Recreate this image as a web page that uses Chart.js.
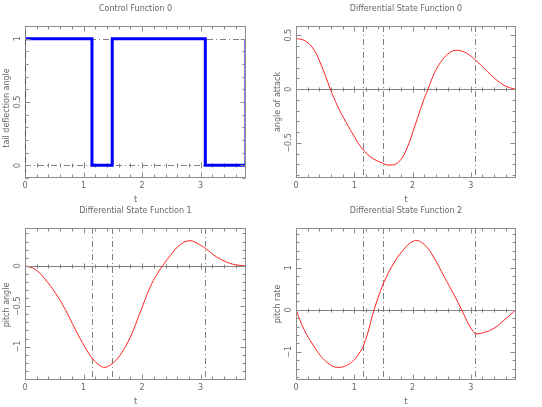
<!DOCTYPE html>
<html lang="en">
<head>
<meta charset="UTF-8">
<title>Control and Differential State Functions</title>
<script src="https://cdn.jsdelivr.net/npm/chart.js"></script>
<style>
    body { margin: 0; background: #ffffff; }
    canvas { position: absolute; }
</style>
</head>
<body>
<canvas id="c0" width="271" height="203" style="left:0;top:0"></canvas>
<canvas id="c1" width="271" height="203" style="left:271px;top:0"></canvas>
<canvas id="c2" width="271" height="204" style="left:0;top:203px"></canvas>
<canvas id="c3" width="271" height="204" style="left:271px;top:203px"></canvas>
<script>
// switching times of the control (dash-dot markers)
const switchTimes = [1.144, 1.49, 3.08];
const tEnd = 3.775;

// control function 0 (tail deflection angle)
const controlT = [0, 1.144, 1.144, 1.49, 1.49, 3.08, 3.08, 3.775, 3.775];
const controlU = [1, 1, 0, 0, 1, 1, 0, 0, 1];

// differential state 0 (angle of attack)
const alphaT = [0, 0.14, 0.29, 0.43, 0.59, 0.71, 0.86, 1.0, 1.098, 1.27, 1.48, 1.612, 1.755, 1.898, 2.04, 2.18, 2.266, 2.38, 2.52, 2.64, 2.74, 2.86, 2.98, 3.08, 3.28, 3.51, 3.68, 3.775];
const alphaV = [0.469, 0.453, 0.38, 0.227, 0, -0.155, -0.31, -0.44, -0.526, -0.626, -0.688, -0.706, -0.681, -0.557, -0.341, -0.118, 0, 0.154, 0.278, 0.34, 0.36, 0.35, 0.315, 0.27, 0.165, 0.056, 0.01, 0];

// differential state 1 (pitch angle)
const thetaT = [0, 0.17, 0.342, 0.513, 0.684, 0.855, 1.026, 1.157, 1.28, 1.37, 1.48, 1.62, 1.80, 1.97, 2.14, 2.25, 2.35, 2.48, 2.65, 2.82, 2.98, 3.08, 3.27, 3.50, 3.67, 3.775];
const thetaV = [0, -0.042, -0.165, -0.33, -0.536, -0.782, -1.008, -1.152, -1.235, -1.256, -1.215, -1.11, -0.88, -0.57, -0.26, -0.11, 0, 0.125, 0.26, 0.31, 0.26, 0.215, 0.11, 0.03, 0.004, 0];

// differential state 2 (pitch rate)
const qT = [0, 0.14, 0.29, 0.43, 0.57, 0.70, 0.86, 1.0, 1.144, 1.23, 1.34, 1.49, 1.63, 1.8, 2.03, 2.2, 2.37, 2.54, 2.71, 2.84, 3.0, 3.08, 3.23, 3.4, 3.57, 3.775];
const qV = [0, -0.48, -0.83, -1.11, -1.29, -1.37, -1.33, -1.19, -0.91, -0.56, 0, 0.6, 0.99, 1.35, 1.64, 1.55, 1.23, 0.79, 0.36, 0, -0.44, -0.58, -0.54, -0.44, -0.25, 0];

// tick labels
const xTicks = [0, 1, 2, 3];
const yTicksControl = [0, 0.5, 1];
const yTicksAlpha = [-0.5, 0, 0.5];
const yTicksTheta = [-1, -0.5, 0];
const yTicksQ = [-1, 0, 1];

const fmt = v => (v < 0 ? '\u2212' : '') + Math.abs(v);

// split a curve at the switching times so the kinks stay sharp
function segments(ts, vs) {
    const cuts = [0, ...switchTimes, tEnd];
    const out = [];
    for (let i = 0; i < cuts.length - 1; i++) {
        const pts = [];
        ts.forEach((t, j) => {
            if (t >= cuts[i] - 1e-9 && t <= cuts[i + 1] + 1e-9) pts.push({ x: t, y: vs[j] });
        });
        out.push(pts);
    }
    return out;
}

const decor = {
    id: 'decor',
    beforeDatasetsDraw(chart, args, o) {
        const { ctx, chartArea: a, scales: { x, y } } = chart;
        ctx.save();
        ctx.lineWidth = 1;
        ctx.strokeStyle = '#808080';
        ctx.setLineDash([6, 3, 1, 3]);
        (o.vLines || []).forEach(v => {
            const px = Math.round(x.getPixelForValue(v)) + 0.5;
            ctx.beginPath(); ctx.moveTo(px, a.top); ctx.lineTo(px, a.bottom); ctx.stroke();
        });
        (o.hDash || []).forEach(v => {
            const py = Math.round(y.getPixelForValue(v)) + 0.5;
            ctx.beginPath(); ctx.moveTo(a.left, py); ctx.lineTo(a.right, py); ctx.stroke();
        });
        ctx.setLineDash([]);
        // zero axis with its own small ticks
        const py0 = Math.round(y.getPixelForValue(0)) + 0.5;
        if (!o.zeroDashed) {
            ctx.beginPath(); ctx.moveTo(a.left, py0); ctx.lineTo(a.right, py0); ctx.stroke();
        }
        for (let t = 0; t <= tEnd + 1e-9; t += 0.2) {
            const px = Math.round(x.getPixelForValue(t)) + 0.5;
            const major = Math.abs(t - Math.round(t)) < 1e-6;
            const h = major ? 3 : 2;
            ctx.beginPath(); ctx.moveTo(px, py0 - h); ctx.lineTo(px, py0 + h); ctx.stroke();
        }
        ctx.restore();
    },
    afterDatasetsDraw(chart, args, o) {
        const { ctx, chartArea: a, scales: { x, y } } = chart;
        ctx.save();
        ctx.strokeStyle = '#8c8c8c';
        ctx.lineWidth = 1;
        const L = a.left + 0.5, R = Math.round(a.right) - 0.5, T = a.top + 0.5, B = Math.round(a.bottom) - 0.5;
        ctx.strokeRect(L, T, R - L, B - T);
        if (o.darkLeft) {
            ctx.strokeStyle = '#505050';
            ctx.setLineDash([6, 3, 1, 3]);
            ctx.beginPath(); ctx.moveTo(L, T); ctx.lineTo(L, B); ctx.stroke();
            ctx.setLineDash([]);
            ctx.strokeStyle = '#8c8c8c';
        }
        // x ticks, inward on bottom and top
        for (let t = 0; t <= tEnd + 1e-9; t += 0.2) {
            const px = Math.round(x.getPixelForValue(t)) + 0.5;
            const major = Math.abs(t - Math.round(t)) < 1e-6;
            const h = major ? 5 : 3;
            ctx.beginPath();
            ctx.moveTo(px, B); ctx.lineTo(px, B - h);
            ctx.moveTo(px, T); ctx.lineTo(px, T + h);
            ctx.stroke();
        }
        // y ticks, inward on left and right
        const start = Math.ceil(y.min / o.yMinor - 1e-9) * o.yMinor;
        for (let v = start; v <= y.max + 1e-9; v += o.yMinor) {
            const py = Math.round(y.getPixelForValue(v)) + 0.5;
            const major = o.yTicks.some(m => Math.abs(m - v) < 1e-6);
            const h = major ? 5 : 3;
            ctx.beginPath();
            ctx.moveTo(L, py); ctx.lineTo(L + h, py);
            ctx.moveTo(R, py); ctx.lineTo(R - h, py);
            ctx.stroke();
        }
        // texts
        ctx.fillStyle = '#666666';
        ctx.font = '8px "DejaVu Sans"';
        ctx.textAlign = 'center';
        ctx.textBaseline = 'middle';
        xTicks.forEach(t => ctx.fillText(String(t), x.getPixelForValue(t), a.bottom + 8));
        ctx.fillText('t', (a.left + a.right) / 2, a.bottom + 22);
        ctx.fillText(o.title, (a.left + a.right) / 2, a.top - 17);
        o.yTicks.forEach(v => {
            ctx.save();
            ctx.translate(a.left - 7, y.getPixelForValue(v));
            ctx.rotate(-Math.PI / 2);
            ctx.fillText(fmt(v), 0, 0);
            ctx.restore();
        });
        ctx.save();
        ctx.translate(7, o.ylabelY);
        ctx.rotate(-Math.PI / 2);
        ctx.fillText(o.ylabel, 0, 0);
        ctx.restore();
        ctx.restore();
    }
};

function makeChart(id, datasets, yMin, yMax, pad, deco) {
    return new Chart(document.getElementById(id), {
        type: 'line',
        data: { datasets },
        options: {
            responsive: false,
            animation: false,
            layout: { padding: pad },
            elements: { point: { radius: 0 } },
            scales: {
                x: { type: 'linear', min: 0, max: tEnd, display: false },
                y: { type: 'linear', min: yMin, max: yMax, display: false }
            },
            plugins: { legend: { display: false }, tooltip: { enabled: false }, decor: deco }
        },
        plugins: [decor]
    });
}

function redLine(pts) {
    return {
        data: pts,
        borderColor: '#ff2020',
        borderWidth: 1,
        tension: 0.4,
        fill: false
    };
}

const smooth = (ts, vs) => [redLine(ts.map((t, i) => ({ x: t, y: vs[i] })))];
const kinked = (ts, vs) => segments(ts, vs).map(redLine);

makeChart('c0', [{
    data: controlT.map((t, i) => ({ x: t, y: controlU[i] })),
    borderColor: '#0000ff',
    borderWidth: 3,
    tension: 0,
    fill: false
}], -0.1, 1.1, { left: 25, right: 25, top: 26, bottom: 25 }, {
    title: 'Control Function 0', ylabel: 'tail deflection angle', ylabelY: 108,
    yTicks: yTicksControl, yMinor: 0.1, hDash: [0, 1], zeroDashed: true, darkLeft: true
});

makeChart('c1', smooth(alphaT, alphaV), -0.826, 0.586, { left: 25, right: 26, top: 26, bottom: 25 }, {
    title: 'Differential State Function 0', ylabel: 'angle of attack', ylabelY: 102,
    yTicks: yTicksAlpha, yMinor: 0.1, vLines: switchTimes
});

makeChart('c2', smooth(thetaT, thetaV), -1.413, 0.467, { left: 25, right: 25, top: 25, bottom: 27 }, {
    title: 'Differential State Function 1', ylabel: 'pitch angle', ylabelY: 102,
    yTicks: yTicksTheta, yMinor: 0.1, vLines: switchTimes
});

makeChart('c3', kinked(qT, qV), -1.671, 1.941, { left: 25, right: 26, top: 25, bottom: 27 }, {
    title: 'Differential State Function 2', ylabel: 'pitch rate', ylabelY: 101,
    yTicks: yTicksQ, yMinor: 0.2, vLines: switchTimes
});
</script>
</body>
</html>
